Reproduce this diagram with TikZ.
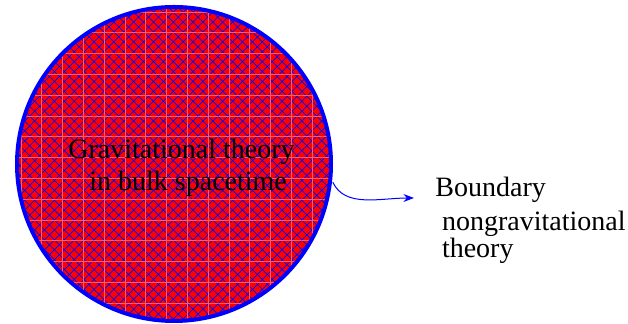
\documentclass[tikz,border=0pt]{standalone}
\usepackage{fontspec}
\setmainfont{Liberation Serif}
\usetikzlibrary{arrows.meta, patterns.meta}
\definecolor{bulkfill}{RGB}{255, 0, 0}
\definecolor{bulkline}{RGB}{0, 0, 255}
\definecolor{bulkgrid}{RGB}{255, 95, 95}
\tikzset{
  % bulk region: red disc, blue rim, blue diagonal cross-hatching,
  % faint light grid on top
  bulk/.style={
    circle, draw=bulkline, line width=2pt,
    minimum size=157pt, inner sep=0pt,
    preaction={fill=bulkfill},
    preaction={pattern={Hatch[angle=45, distance=3.5pt, line width=0.35pt]},
               pattern color=bulkline},
    pattern={Hatch[angle=0, distance=10.4pt, line width=0.3pt]},
    pattern color=bulkgrid
  },
  %
  % labels (anchored on the baseline of their last line)
  bulk label/.style={
    font=\fontsize{14}{16}\selectfont, align=left, inner sep=0pt,
    anchor=base west
  },
  bdry label/.style={
    font=\fontsize{14}{15}\selectfont, align=left, inner sep=0pt,
    anchor=base west
  },
  %
  % map from the bulk to its boundary
  holo edge/.style={
    -Stealth, color=bulkline, line width=0.5pt, shorten <=2.5pt
  },
}

\begin{document}
\begin{tikzpicture}[x=0.5pt, y=-0.5pt]
  \useasboundingbox (0, 0) rectangle (628, 324);

  %% ── Bulk spacetime ────────────────────────────────────────────────────────
  \node[bulk] (bulk) at (174, 164) {};
  \node[bulk label] (bulktxt) at (68, 191)
    {Gravitational theory\\\hspace*{10.5pt}in bulk spacetime};

  %% ── Boundary theory ───────────────────────────────────────────────────────
  \node[bdry label] (bdry) at (435, 258)
    {Boundary\\[2pt]\hspace*{3.3pt}nongravitational\\[-1.5pt]\hspace*{3.3pt}theory};
  \coordinate (bdryin) at (414, 198);

  %% ── Arrow ─────────────────────────────────────────────────────────────────
  \draw[holo edge] (bulk.-5) to[out=-65, in=180] (bdryin);

\end{tikzpicture}
\end{document}
